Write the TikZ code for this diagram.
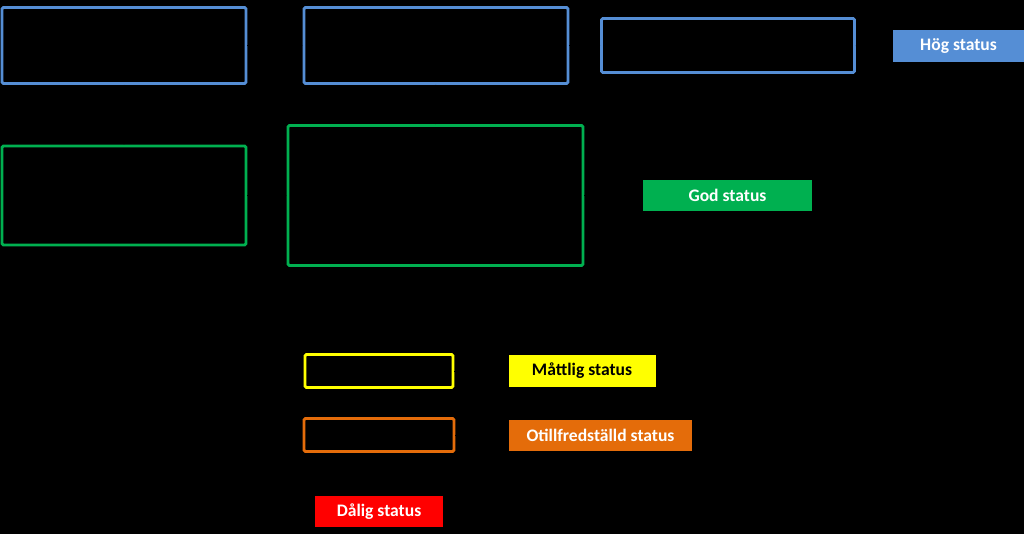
\documentclass[tikz,border=0pt]{standalone}
\usepackage{fontspec}
\setmainfont{Carlito}
\usetikzlibrary{arrows.meta, positioning}
\definecolor{hogColor}{HTML}{558ED5}
\definecolor{godColor}{HTML}{00B050}
\definecolor{mattColor}{HTML}{FFFF00}
\definecolor{otillColor}{HTML}{E46C0A}
\definecolor{daligColor}{HTML}{FF0000}

\begin{document}
\begin{tikzpicture}[x=0.02cm, y=-0.02cm, >=Stealth, font=\bfseries\fontsize{10}{11}\selectfont,
    flowbox/.style={draw, line width=1.6pt, rounded corners=0.8pt, fill=black, inner sep=0pt},
    statusbox/.style={inner sep=0pt, text=white}]
        % background
        \fill[black] (0,0) rectangle (1024,534);
        \useasboundingbox (0,0) rectangle (1024,534);

        % flow boxes
        \node[flowbox, draw=hogColor, minimum width=244*0.02cm, minimum height=76*0.02cm] (b1) at (124,45.5) {};
        \node[flowbox, draw=hogColor, minimum width=264*0.02cm, minimum height=76*0.02cm] (b2) at (436,45.5) {};
        \node[flowbox, draw=hogColor, minimum width=253*0.02cm, minimum height=54*0.02cm] (b3) at (728,45.5) {};
        \node[flowbox, draw=godColor, minimum width=244*0.02cm, minimum height=99*0.02cm] (g1) at (124,195.5) {};
        \node[flowbox, draw=godColor, minimum width=295*0.02cm, minimum height=140*0.02cm] (g2) at (435.5,195.5) {};
        \node[flowbox, draw=mattColor, minimum width=148*0.02cm, minimum height=33*0.02cm] (m1) at (379,371) {};
        \node[flowbox, draw=otillColor, minimum width=150*0.02cm, minimum height=33*0.02cm] (o1) at (379,435) {};

        % status labels
        \node[statusbox, fill=hogColor, minimum width=131*0.02cm, minimum height=32*0.02cm] (hog) at (958.5,46) {Hög status};
        \node[statusbox, fill=godColor, minimum width=169*0.02cm, minimum height=31*0.02cm] (god) at (727.5,195.5) {God status};
        \node[statusbox, fill=mattColor, text=black, minimum width=147*0.02cm, minimum height=32*0.02cm] (matt) at (582,371) {Måttlig status};
        \node[statusbox, fill=otillColor, minimum width=183*0.02cm, minimum height=31*0.02cm] (otill) at (600.5,435) {Otillfredställd status};
        \node[statusbox, fill=daligColor, minimum width=128*0.02cm, minimum height=31*0.02cm] (dalig) at (379,511.5) {Dålig status};

        % connectors
        \draw[->, black, thin] (b1) -- (b2);
        \draw[->, black, thin] (b2) -- (b3);
        \draw[->, black, thin] (b3) -- (hog);
        \draw[->, black, thin] (b1) -- (g1);
        \draw[->, black, thin] (b2) -- (g2);
        \draw[->, black, thin] (g1) -- (g2);
        \draw[->, black, thin] (g2) -- (god);
        \draw[->, black, thin] (m1) -- (matt);
        \draw[->, black, thin] (m1) -- (o1);
        \draw[->, black, thin] (o1) -- (otill);
        \draw[->, black, thin] (o1) -- (dalig);
    \end{tikzpicture}
\end{document}
